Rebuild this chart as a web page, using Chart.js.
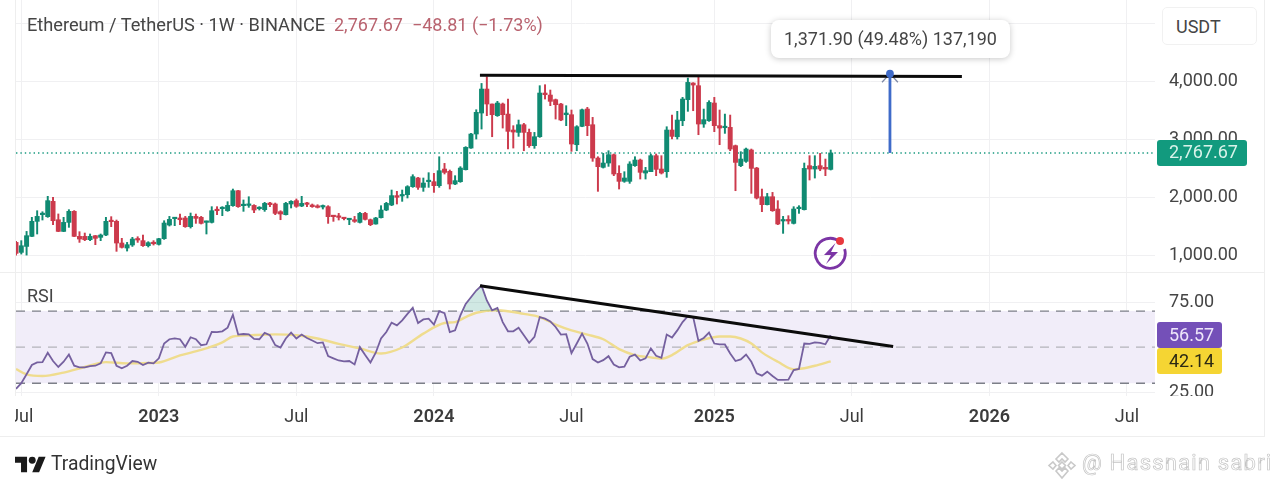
<!DOCTYPE html>
<html lang="en">
<head>
<meta charset="UTF-8">
<title>ETH / USDT weekly</title>
<script src="https://cdn.jsdelivr.net/npm/chart.js"></script>
<style>
    html, body { margin: 0; padding: 0; background: #fff; overflow: hidden; }
    body { width: 1280px; height: 490px; position: relative; font-family: Roboto, sans-serif; }
    canvas { position: absolute; left: 0; top: 0; }
    .txt { position: absolute; white-space: nowrap; font-size: 18px; line-height: 22px; color: #454545; }
    #title { left: 27px; top: 14px; font-size: 18.2px; }
    #quote { left: 334px; top: 14px; color: #b9636f; }
    #rsi { left: 27px; top: 285px; }
    #unit { left: 1162px; top: 7px; width: 95px; height: 38px; line-height: 38px; box-sizing: border-box; padding-left: 13px; border: 1px solid #f1f1f1; border-radius: 5px; background: #fff; }
    #measure { left: 771px; top: 20px; width: 239px; height: 38px; line-height: 38px; text-align: center; background: #fff; border-radius: 8px; box-shadow: 0 1px 6px rgba(0,0,0,.22); }
    #brand { left: 51px; top: 453px; font-size: 19.3px; color: #333; }
    #mark { left: 1082px; top: 452px; font-size: 22px; letter-spacing: 1.2px; color: #fff; -webkit-text-stroke: 0.7px #c4c4c4; }
    svg { position: absolute; }
</style>
</head>
<body>
<canvas id="ethChart" width="1280" height="490"></canvas>

<div class="txt" id="title">Ethereum / TetherUS · 1W · BINANCE</div>
<div class="txt" id="quote">2,767.67&nbsp; −48.81 (−1.73%)</div>
<div class="txt" id="rsi">RSI</div>
<div class="txt" id="unit">USDT</div>
<div class="txt" id="measure">1,371.90 (49.48%) 137,190</div>
<div class="txt" id="brand">TradingView</div>
<div class="txt" id="mark">@ Hassnain sabri</div>

<svg style="left:15px;top:456px" width="31" height="17" viewBox="0 4 36 18"><path fill="#1a1a1a" d="M14 22H7V11H0V4h14v18zM28 22h-8l7.5-18h8L28 22z"/><circle fill="#1a1a1a" cx="20" cy="8" r="4"/></svg>
<svg style="left:1047px;top:451px" width="30" height="30" viewBox="0 0 30 30" fill="#fff" stroke="#c9c9c9" stroke-width="1.6"><path d="M15 2l6 6-3 3-3-3-3 3-3-3zM6 11l3 3.5L6 18l-4-3.5zM24 11l4 3.5-4 3.5-3-3.5zM15 11l3.5 3.5L15 18l-3.5-3.5zM9 20l3-3 3 3 3-3 3 3-6 7z"/></svg>
<svg style="left:812px;top:235px" width="38" height="36" viewBox="0 0 38 36">
    <path d="M27.5 6.5A15 15 0 1 0 32.6 14" fill="none" stroke="#7b35a5" stroke-width="2.8"/>
    <path d="M23.5 8L12 20h7l-5 9 12-12h-7z" fill="#7b35a5"/>
    <circle cx="28" cy="6" r="4" fill="#e8393f"/>
</svg>

<script>
    // weekly candles, oldest first
    const opens = [
        1220,1047,1150,1324,1584,1700,1665,1930,1612,1410,
        1566,1757,1324,1324,1267,1336,1307,1347,1595,1584,
        1209,1122,1175,1278,1250,1163,1215,1186,1284,1520,
        1630,1642,1642,1492,1670,1653,1566,1566,1790,1803,
        1768,1855,2114,1855,1860,1860,1803,1786,1901,1884,
        1751,1699,1884,1942,1849,1901,1867,1849,1832,1838,
        1682,1670,1647,1612,1612,1566,1722,1612,1538,1647,
        1780,1867,2029,2023,2046,2184,2334,2172,2270,2270,
        2201,2489,2449,2230,2270,2478,2852,3095,3458,3873,
        3614,3412,3614,3440,3164,3123,3256,3123,2893,3048,
        3804,3769,3689,3614,3429,3429,2910,3227,3527,3256,
        2679,2518,2593,2737,2414,2276,2276,2547,2645,2420,
        2443,2720,2489,2443,3164,3048,3325,3689,3977,3931,
        3268,3325,3631,3239,3204,3210,2893,2547,2622,2818,
        2506,2010,1872,2010,1797,1590,1607,1549,1803,1786,
        2547,2489,2547,2518,2483
    ];
    const highs = [
        1240,1250,1410,1653,1768,1750,2017,2000,1712,1653,
        1786,1770,1405,1382,1365,1340,1365,1653,1665,1607,
        1290,1220,1307,1318,1347,1232,1250,1290,1595,1670,
        1653,1710,1670,1728,1710,1670,1590,1838,1838,1838,
        1924,2143,2120,1954,2010,1872,1838,1913,1913,1901,
        1768,1913,1942,1971,2017,1913,1884,1872,1867,1855,
        1682,1722,1653,1630,1670,1740,1740,1624,1653,1855,
        1913,2126,2103,2126,2201,2391,2345,2334,2426,2414,
        2702,2587,2472,2374,2530,2876,3106,3515,3970,4086,
        3614,3660,3631,3700,3239,3337,3279,3181,3123,3931,
        3948,3856,3700,3625,3585,3510,3239,3527,3556,3383,
        2702,2760,2806,2749,2547,2443,2616,2702,2662,2518,
        2749,2749,2720,3221,3423,3487,3729,4063,3983,4075,
        3527,3671,3729,3510,3440,3423,2904,2789,2852,2835,
        2518,2143,2068,2085,1942,1670,1682,1838,1855,2593,
        2720,2720,2760,2662,2818
    ];
    const lows = [
        1000,1018,1000,1320,1365,1607,1653,1526,1405,1405,
        1480,1320,1220,1250,1250,1180,1250,1336,1492,1065,
        1122,1070,1150,1220,1150,1140,1174,1174,1272,1503,
        1509,1526,1480,1468,1549,1538,1365,1555,1699,1682,
        1757,1844,1826,1757,1826,1734,1780,1757,1838,1699,
        1612,1693,1815,1826,1838,1838,1826,1815,1797,1549,
        1584,1607,1607,1526,1566,1555,1607,1509,1535,1642,
        1768,1855,1884,1930,1988,2172,2137,2103,2172,2085,
        2172,2403,2143,2218,2259,2472,2847,3008,3181,3412,
        3048,3400,3198,2835,2852,3054,2806,2864,2847,3037,
        3700,3585,3354,3325,3239,2795,2806,3221,3066,2622,
        2103,2506,2535,2374,2143,2259,2241,2535,2316,2316,
        2443,2374,2403,2345,3008,3008,3239,3487,3498,3083,
        3210,3314,3135,2910,3106,2806,2114,2530,2604,2068,
        1971,1751,1867,1757,1526,1376,1538,1538,1722,1780,
        2299,2333,2460,2374,2472
    ];
    const closes = [
        1030,1162,1336,1584,1670,1712,1942,1595,1410,1566,
        1757,1324,1278,1267,1324,1290,1347,1584,1578,1209,
        1134,1180,1278,1261,1163,1215,1197,1284,1555,1618,
        1642,1612,1492,1670,1636,1549,1584,1768,1768,1815,
        1860,2114,1838,1872,1872,1780,1815,1895,1872,1722,
        1711,1895,1930,1844,1895,1878,1838,1826,1844,1665,
        1665,1653,1630,1624,1584,1722,1618,1526,1642,1780,
        1895,2029,2000,2046,2184,2357,2172,2247,2288,2201,
        2460,2431,2230,2288,2506,2864,3095,3470,3873,3614,
        3429,3631,3429,3141,3129,3256,3123,2893,3048,3804,
        3775,3660,3602,3337,3458,2922,3221,3515,3239,2679,
        2530,2593,2737,2403,2276,2334,2576,2645,2432,2460,
        2720,2483,2420,3164,3054,3337,3700,3988,3942,3268,
        3343,3642,3239,3198,3221,2835,2604,2662,2835,2500,
        1988,1872,2010,1768,1538,1607,1590,1797,1826,2500,
        2489,2535,2489,2489,2767.67
    ];

    // RSI(14), one value per candle
    const rsiValues = [
        26.9,30.0,35.0,40.1,41.5,41.7,46.9,42.3,39.0,41.9,
        45.9,39.7,38.8,38.8,39.5,39.7,41.0,47.1,46.7,39.7,
        38.3,39.7,42.3,41.9,40.1,41.4,41.0,43.8,52.0,54.4,
        54.9,54.4,50.2,55.5,54.4,51.1,51.6,58.4,58.3,58.8,
        60.8,68.0,57.0,57.3,57.1,54.6,54.4,57.9,56.6,51.1,
        49.8,54.8,58.1,54.8,57.0,55.1,53.7,52.2,52.6,45.0,
        43.8,42.6,42.1,42.3,40.4,50.0,45.6,41.5,46.9,54.8,
        58.4,63.6,62.1,64.9,68.5,71.8,63.4,65.4,65.8,62.5,
        70.0,68.9,58.4,59.3,67.6,74.0,77.7,81.4,84.1,75.9,
        70.4,71.8,63.9,58.8,58.8,60.8,56.6,52.4,55.7,66.7,
        65.8,64.3,61.2,57.0,57.2,46.7,52.0,57.5,52.0,43.4,
        41.5,42.8,45.0,40.4,38.8,39.2,44.7,45.9,42.6,43.8,
        49.3,45.2,44.1,57.0,55.3,59.3,63.9,67.2,66.7,53.5,
        55.1,58.1,52.0,51.5,51.5,46.5,42.3,43.2,45.9,41.9,
        35.5,34.2,36.4,34.0,31.8,31.8,32.0,37.3,37.9,52.0,
        51.8,52.6,52.4,51.6,56.57
    ];
    const rsiMaWeeks = [0,2,5,9,13,17,21,25,27,31,35,39,41,44,49,53,57,61,65,69,73,77,81,83,85,87,91,96,99,102,105,108,111,114,117,120,122,124,127,130,133,135,137,139,141,144,147,149,151,154];
    const rsiMaValues = [37.9,34.9,34.0,35.9,39.0,41.7,41.0,41.2,41.5,45.4,48.5,52.7,55.9,56.6,57.1,56.6,54.8,51.8,49.3,46.5,49.8,57.5,63.4,63.9,66.7,69.1,70.5,68.5,66.7,62.5,59.3,57.0,54.4,48.9,45.6,44.3,43.6,45.6,51.1,54.2,55.9,55.9,54.8,52.0,47.1,41.9,37.7,38.3,39.7,42.14];

    const xTickWeeks = [1,27,53,79,105,132,158,184,210];
    const xTickLabels = ['Jul','2023','Jul','2024','Jul','2025','Jul','2026','Jul'];
    const priceTicks = [1000,2000,3000,4000,5000];
    const rsiTicks = [25,50,75];

    const lastPrice = 2767.67;
    const lastRsi = 56.57;
    const lastRsiMa = 42.14;
    const weekMax = 215.3;

    // hand drawn lines on the chart, in week / price units
    const resistanceWeeks = [87.7,178.8];
    const resistancePrices = [4112,4090];
    const rsiTrendWeeks = [87.7,165.8];
    const rsiTrendValues = [84.1,50.4];
    const measureWeek = 165.2;
    const measurePrices = [2767.67,4139.57];
    const measureHeadWeeks = [163.7,165.2,166.7];
    const measureHeadPrices = [3990,4139.57,3990];

    const UP = '#108a72';
    const DOWN = '#cc3a4c';
    const FONT = 'Roboto, sans-serif';

    const pts = (xs, ys) => xs.map((x, i) => ({ x: x, y: ys[i] }));
    const flat = v => [{ x: 0, y: v }, { x: weekMax, y: v }];
    const candleColor = ctx => closes[ctx.dataIndex] >= opens[ctx.dataIndex] ? UP : DOWN;

    const wickData = highs.map((h, i) => ({ x: i, y: [lows[i], h] }));
    const bodyData = opens.map((o, i) => ({ x: i, y: [o, closes[i]] }));

    // chart.js reserves room for half a tick label on each side, the panes here run edge to edge
    const noPadding = scale => {
        scale.paddingTop = 0;
        scale.paddingBottom = 0;
        scale.paddingLeft = 0;
        scale.paddingRight = 0;
    };

    // axis tags, frame lines and the bits the chart clips in the original
    const overlayPlugin = {
        id: 'overlay',
        afterDraw(chart) {
            const c = chart.ctx, p = chart.scales.yPrice, r = chart.scales.yRsi;

            c.save();
            c.fillStyle = '#fff';
            c.fillRect(1156, 396, 105, 9);
            c.fillRect(0, 400, 15, 32);

            c.strokeStyle = '#eeeeee';
            c.lineWidth = 1;
            c.beginPath();
            c.moveTo(0, 272.5); c.lineTo(1264, 272.5);
            c.moveTo(1264.5, 0); c.lineTo(1264.5, 437);
            c.moveTo(0, 436.5); c.lineTo(1264, 436.5);
            c.moveTo(15.5, 0); c.lineTo(15.5, 396);
            c.stroke();

            const tag = (x, w, y, bg, fg, text) => {
                c.fillStyle = bg;
                c.beginPath();
                c.roundRect(x, Math.round(y) - 13, w, 26, 3);
                c.fill();
                c.fillStyle = fg;
                c.font = '18px ' + FONT;
                c.textBaseline = 'middle';
                c.textAlign = 'left';
                c.fillText(text, 1169, y + 1);
            };
            tag(1157, 90, p.getPixelForValue(lastPrice), '#129a7e', '#d9f3ea', '2,767.67');
            tag(1157, 65, r.getPixelForValue(lastRsi), '#7450b8', '#eee6fa', '56.57');
            tag(1157, 65, r.getPixelForValue(lastRsiMa), '#f5d533', '#2c2a14', '42.14');
            c.restore();
        }
    };

    new Chart(document.getElementById('ethChart'), {
        data: {
            datasets: [
                // rsi pane background
                { type: 'line', order: 20, yAxisID: 'yRsi', data: flat(70), borderColor: '#7c7f88', borderWidth: 1.4, borderDash: [9, 7], pointRadius: 0, fill: { target: { value: 30 }, below: '#f1edf9', above: '#f1edf9' } },
                { type: 'line', order: 19, yAxisID: 'yRsi', data: flat(50), borderColor: '#b4b4ba', borderWidth: 1.4, borderDash: [9, 7], pointRadius: 0 },
                { type: 'line', order: 18, yAxisID: 'yRsi', data: flat(30), borderColor: '#7c7f88', borderWidth: 1.4, borderDash: [9, 7], pointRadius: 0 },
                { type: 'line', order: 10, yAxisID: 'yRsi', data: pts(rsiMaWeeks, rsiMaValues), borderColor: '#efdc8e', borderWidth: 2.4, pointRadius: 0, cubicInterpolationMode: 'monotone' },
                { type: 'line', order: 9, yAxisID: 'yRsi', data: rsiValues.map((v, i) => ({ x: i, y: v })), borderColor: '#75609f', borderWidth: 1.8, pointRadius: 0, tension: 0, fill: { target: { value: 70 }, above: 'rgba(20,140,115,0.2)', below: 'rgba(0,0,0,0)' } },

                // price pane
                { type: 'line', order: 8, yAxisID: 'yPrice', data: flat(lastPrice), borderColor: '#1a9a80', borderWidth: 1.4, borderDash: [1.4, 3], pointRadius: 0 },
                { type: 'bar', order: 7, yAxisID: 'yPrice', data: wickData, backgroundColor: candleColor, barThickness: 1.3, grouped: false },
                { type: 'bar', order: 6, yAxisID: 'yPrice', data: bodyData, backgroundColor: candleColor, barThickness: 4.3, minBarLength: 1.5, grouped: false },

                // drawings
                { type: 'line', order: 3, yAxisID: 'yPrice', data: pts(measureHeadWeeks, measureHeadPrices), borderColor: '#7d88a6', borderWidth: 1.3, pointRadius: 0 },
                { type: 'line', order: 2, yAxisID: 'yPrice', data: pts(resistanceWeeks, resistancePrices), borderColor: '#0b0b0b', borderWidth: 3, pointRadius: 0 },
                { type: 'line', order: 1, yAxisID: 'yPrice', data: pts([measureWeek, measureWeek], measurePrices), borderColor: '#3f6bc9', backgroundColor: '#3f6bc9', borderWidth: 2.8, pointRadius: [0, 2.5] },
                { type: 'line', order: 2, yAxisID: 'yRsi', data: pts(rsiTrendWeeks, rsiTrendValues), borderColor: '#0b0b0b', borderWidth: 3, pointRadius: 0 }
            ]
        },
        options: {
            responsive: false,
            animation: false,
            parsing: { xAxisKey: 'x', yAxisKey: 'y' },
            layout: { autoPadding: false, padding: { left: 16, right: 0, top: 0, bottom: 0 } },
            plugins: { legend: { display: false }, tooltip: { enabled: false } },
            scales: {
                x: {
                    type: 'linear',
                    offset: false,
                    min: 0,
                    max: weekMax,
                    afterBuildTicks: scale => { scale.ticks = xTickWeeks.map(w => ({ value: w })); },
                    afterFit: scale => { scale.height = 94; noPadding(scale); },
                    grid: { color: '#f0f0f2', drawTicks: false, offset: false },
                    border: { display: false },
                    ticks: {
                        autoSkip: false,
                        maxRotation: 0,
                        padding: 11,
                        color: '#3c3c3c',
                        font: ctx => ({ family: FONT, size: 18, weight: ctx.index % 2 ? '600' : '400' }),
                        callback: (value, index) => xTickLabels[index]
                    }
                },
                yPrice: {
                    type: 'linear',
                    position: 'right',
                    stack: 'panes',
                    stackWeight: 272,
                    min: 4000 - 190.3 / 0.0578,
                    max: 4000 + 81.7 / 0.0578,
                    afterBuildTicks: scale => { scale.ticks = priceTicks.map(v => ({ value: v })); },
                    afterFit: scale => { scale.width = 125; noPadding(scale); },
                    grid: { color: '#f0f0f2', drawTicks: false },
                    border: { display: false },
                    ticks: {
                        padding: 14,
                        color: '#454545',
                        font: { family: FONT, size: 18 },
                        callback: value => value === 5000 ? '' : value.toLocaleString('en-US', { minimumFractionDigits: 2 })
                    }
                },
                yRsi: {
                    type: 'linear',
                    position: 'right',
                    stack: 'panes',
                    stackWeight: 124,
                    min: 22.9,
                    max: 91.7,
                    afterBuildTicks: scale => { scale.ticks = rsiTicks.map(v => ({ value: v })); },
                    afterFit: scale => { scale.width = 125; noPadding(scale); },
                    grid: { color: ctx => ctx.tick.value === 50 ? 'rgba(0,0,0,0)' : '#f0f0f2', drawTicks: false },
                    border: { display: false },
                    ticks: {
                        padding: 14,
                        color: '#454545',
                        font: { family: FONT, size: 18 },
                        callback: value => value === 50 ? '' : value.toFixed(2)
                    }
                }
            }
        },
        plugins: [overlayPlugin]
    });
</script>
</body>
</html>
